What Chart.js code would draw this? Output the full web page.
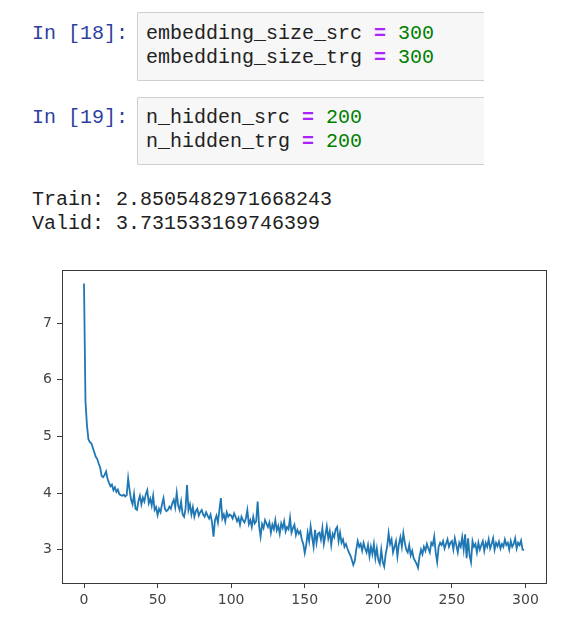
<!DOCTYPE html>
<html>
<head>
<meta charset="utf-8">
<script src="https://cdn.jsdelivr.net/npm/chart.js@4/dist/chart.umd.min.js"></script>
<style>
  body { margin: 0; background: #fff; width: 581px; height: 626px; overflow: hidden; position: relative; }
  .mono { font-family: "Courier New", "Liberation Mono", monospace; font-size: 20px; line-height: 24px; color: #222; white-space: pre; position: absolute; }
  .prompt { color: #303f9f; }
  .box { position: absolute; background: #f7f7f7; border: 1px solid #cfcfcf; border-right: none; border-radius: 2px 0 0 2px; }
  .op { color: #aa22ff; font-weight: bold; }
  .num { color: #008000; }
  #plot { position: absolute; left: 0; top: 255px; }
</style>
</head>
<body>
<div class="mono prompt" style="left:32px; top:22px;">In [18]:</div>
<div class="box" style="left:137px; top:12px; width:346px; height:67px;"></div>
<div class="mono" style="left:146px; top:22px;">embedding_size_src <span class="op">=</span> <span class="num">300</span>
embedding_size_trg <span class="op">=</span> <span class="num">300</span></div>

<div class="mono prompt" style="left:32px; top:106px;">In [19]:</div>
<div class="box" style="left:137px; top:97px; width:346px; height:66px;"></div>
<div class="mono" style="left:146px; top:106px;">n_hidden_src <span class="op">=</span> <span class="num">200</span>
n_hidden_trg <span class="op">=</span> <span class="num">200</span></div>

<div class="mono" style="left:32px; top:188px;">Train: 2.8505482971668243
Valid: 3.731533169746399</div>

<canvas id="plot" width="581" height="371"></canvas>

<script>
// loss per step
const lossValues = [
  7.70, 5.62, 5.20, 4.95, 4.90, 4.88, 4.80, 4.72, 4.64, 4.60,
  4.52, 4.45, 4.30, 4.28, 4.32, 4.38, 4.25, 4.18, 4.12, 4.15,
  4.05, 4.10, 4.02, 4.06, 3.98, 3.96, 3.95, 3.97, 3.94, 3.96,
  4.26, 4.05, 3.88, 3.80, 3.98, 3.72, 3.70, 3.86, 3.95, 3.80,
  3.92, 3.85, 3.98, 4.05, 3.82, 3.90, 3.78, 3.95, 3.70, 3.75,
  3.61, 3.72, 3.66, 3.80, 3.91, 3.72, 3.68, 3.70, 3.76, 3.72,
  3.82, 3.88, 3.75, 4.00, 3.78, 3.70, 3.85, 3.62, 3.58, 3.72,
  4.14, 3.70, 3.80, 3.62, 3.75, 3.58, 3.68, 3.72, 3.60, 3.66,
  3.70, 3.62, 3.58, 3.66, 3.60, 3.55, 3.62, 3.48, 3.23, 3.52,
  3.60, 3.48, 3.70, 3.91, 3.55, 3.62, 3.50, 3.66, 3.58, 3.62,
  3.60, 3.55, 3.64, 3.58, 3.50, 3.56, 3.44, 3.58, 3.52, 3.48,
  3.55, 3.70, 3.45, 3.52, 3.40, 3.58, 3.46, 3.50, 3.85, 3.42,
  3.23, 3.45, 3.38, 3.52, 3.46, 3.40, 3.48, 3.30, 3.44, 3.36,
  3.52, 3.34, 3.42, 3.28, 3.46, 3.38, 3.50, 3.32, 3.40, 3.36,
  3.56, 3.30, 3.38, 3.44, 3.26, 3.35, 3.28, 3.32, 3.18, 3.10,
  2.94, 3.08, 3.30, 3.15, 3.41, 3.22, 3.05, 3.35, 3.12, 3.28,
  3.30, 3.18, 3.38, 3.10, 3.25, 3.41, 3.20, 3.32, 3.08, 3.28,
  3.22, 3.36, 3.40, 3.15, 3.30, 3.12, 3.18, 3.05, 3.10, 3.02,
  2.95, 2.90, 2.82, 2.73, 2.80, 3.00, 3.15, 3.05, 3.10, 2.98,
  3.12, 3.02, 2.95, 3.08, 2.88, 3.05, 2.92, 3.10, 2.85, 3.02,
  2.82, 2.75, 3.00, 2.78, 2.70, 2.92, 3.05, 3.29, 3.10, 3.18,
  2.95, 3.05, 3.15, 2.88, 3.10, 3.22, 3.05, 3.29, 3.12, 3.00,
  2.95, 3.08, 2.90, 2.98, 2.85, 2.80, 2.75, 2.68, 2.88, 3.00,
  2.92, 3.05, 2.98, 3.10, 3.02, 2.95, 3.12, 3.08, 3.23, 2.95,
  2.78, 3.05, 3.12, 3.08, 3.15, 3.02, 3.10, 3.18, 3.05, 3.12,
  3.15, 3.00, 3.20, 3.08, 2.95, 3.12, 3.05, 3.22, 3.00, 3.27,
  2.85, 3.20, 2.90, 2.78, 3.15, 3.05, 3.10, 2.95, 3.12, 3.00,
  3.08, 3.15, 2.98, 3.12, 3.05, 3.18, 3.02, 3.10, 3.20, 3.00,
  3.12, 3.06, 3.14, 3.02, 3.10, 3.05, 3.18, 3.08, 3.12, 3.00,
  3.15, 3.05, 3.10, 3.20, 3.02, 3.12, 3.08, 3.16, 3.00, 2.99
];
const stepLabels = lossValues.map((_, i) => i);
const xTickValues = [0, 50, 100, 150, 200, 250, 300];
const yTickValues = [3, 4, 5, 6, 7];

// box around the axes, like matplotlib's spines
const frame = {
  id: "frame",
  afterDatasetsDraw(chart) {
    const { ctx, chartArea: a } = chart;
    ctx.save();
    ctx.strokeStyle = "#3a3a3a";
    ctx.lineWidth = 1;
    ctx.strokeRect(Math.round(a.left) + 0.5, Math.round(a.top) + 0.5,
      Math.round(a.right - a.left), Math.round(a.bottom - a.top));
    ctx.restore();
  }
};

const tickFont = { family: "DejaVu Sans", size: 14 };

new Chart(document.getElementById("plot").getContext("2d"), {
  type: "line",
  data: {
    labels: stepLabels,
    datasets: [{
      data: lossValues,
      borderColor: "#1f77b4",
      borderWidth: 1.8,
      pointRadius: 0,
      tension: 0,
      fill: false
    }]
  },
  options: {
    responsive: false,
    animation: false,
    devicePixelRatio: 1,
    layout: { padding: { left: 0, top: 15, right: 35, bottom: 0 } },
    plugins: { legend: { display: false }, tooltip: { enabled: false } },
    scales: {
      x: {
        type: "linear",
        min: -14.95,
        max: 313.95,
        afterBuildTicks: (scale) => { scale.ticks = xTickValues.map((v) => ({ value: v })); },
        afterFit: (scale) => { scale.height = 43; },
        grid: { drawOnChartArea: false, tickLength: 5, tickColor: "#3a3a3a" },
        border: { display: false },
        ticks: { font: tickFont, color: "#444", padding: 4, maxRotation: 0, autoSkip: false }
      },
      y: {
        min: 2.41,
        max: 7.94,
        afterBuildTicks: (scale) => { scale.ticks = yTickValues.map((v) => ({ value: v })); },
        afterFit: (scale) => { scale.width = 62; },
        grid: { drawOnChartArea: false, tickLength: 5, tickColor: "#3a3a3a" },
        border: { display: false },
        ticks: { font: tickFont, color: "#444", padding: 5 }
      }
    }
  },
  plugins: [frame]
});
</script>
</body>
</html>
